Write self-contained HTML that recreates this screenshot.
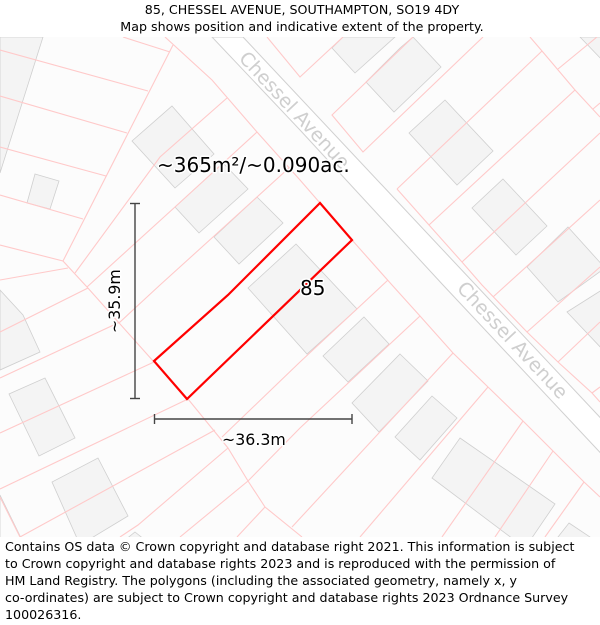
<!DOCTYPE html>
<html><head><meta charset="utf-8"><style>
html,body{margin:0;padding:0;background:#fff;width:600px;height:625px;overflow:hidden}
svg{display:block;font-family:"DejaVu Sans",sans-serif}
.p{fill:none;stroke:#ffc9c9;stroke-width:1.1}
.b{fill:#f4f4f4;stroke:#cfcfcf;stroke-width:.8}
.h{paint-order:stroke;stroke:#fff;stroke-width:3;stroke-linejoin:round}
.f{font-size:12.65px;fill:#000}
</style></head><body>
<svg width="600" height="625" viewBox="0 0 600 625">
<text x="302" y="14" text-anchor="middle" class="f">85, CHESSEL AVENUE, SOUTHAMPTON, SO19 4DY</text>
<text x="302" y="31" text-anchor="middle" class="f">Map shows position and indicative extent of the property.</text>
<clipPath id="c"><rect x="0" y="37" width="600" height="500"/></clipPath>
<g clip-path="url(#c)">
<rect x="0" y="37" width="600" height="500" fill="#fcfcfc"/>
<polygon points="212,37 243,37 610,428 610,463 443,285 300,130" fill="#fff" stroke="#d0d0d0" stroke-width="1"/>
<g>
<polygon class="b" points="0,37 43,37 0,173"/>
<polygon class="b" points="172,106 214,154 175,188 132,141"/>
<polygon class="b" points="223,163 248,189 199,233 175,207"/>
<polygon class="b" points="257,197 283,223 239,264 214,237"/>
<polygon class="b" points="35,174 59,181 50,209 27,203"/>
<polygon class="b" points="0,290 23,315 40,352 0,370"/>
<polygon class="b" points="45,378 75,438 39,456 9,394"/>
<polygon class="b" points="98,458 128,516 80,545 52,482"/>
<polygon class="b" points="296,244 357,309 307,354 248,288"/>
<polygon class="b" points="364,317 389,344 348,382 323,356"/>
<polygon class="b" points="400,354 428,381 379,432 352,403"/>
<polygon class="b" points="432,396 457,418 420,460 395,437"/>
<polygon class="b" points="460,438 555,504 525,548 432,478"/>
<polygon class="b" points="569,523 590,537 575,550 558,537"/>
<polygon class="b" points="135,532 145,540 125,540"/>
<polygon class="b" points="343,37 332,48 355,73 395,37"/>
<polygon class="b" points="413,37 441,67 394,112 366,82 400,48"/>
<polygon class="b" points="445,100 493,151 457,185 409,133"/>
<polygon class="b" points="503,179 547,226 516,255 472,208"/>
<polygon class="b" points="568,227 605,268 558,302 527,267"/>
<polygon class="b" points="605,288 567,312 605,352"/>
<polygon class="b" points="580,37 605,63 605,37"/>
<polygon points="0,495 22,540 0,540" fill="#fcfcfc" stroke="#cfcfcf" stroke-width=".8"/>
</g>
<g>
<polyline class="p" points="0,50 148,91"/>
<polyline class="p" points="123,37 170,52"/>
<polyline class="p" points="0,96 127,133"/>
<polyline class="p" points="0,147 106,176"/>
<polyline class="p" points="0,195 83,219"/>
<polyline class="p" points="0,245 63,261"/>
<polyline class="p" points="173,45 63,261 87,287 154,362 188,399 228,448 248,481 265,507 302,537"/>
<polyline class="p" points="265,507 237,537"/>
<polyline class="p" points="0,280 68,268"/>
<polyline class="p" points="75,273 160,157 227,98"/>
<polyline class="p" points="165,37 212,80 257,132 300,180 320,203 352,240 392,285 420,316 453,353 488,387 523,421 553,451 584,482 600,497"/>
<polyline class="p" points="257,132 175,207 87,287"/>
<polyline class="p" points="0,332 88,288"/>
<polyline class="p" points="290,167 213,237 160,285 120,322 0,378"/>
<polyline class="p" points="154,362 0,433"/>
<polyline class="p" points="188,399 0,489"/>
<polyline class="p" points="215,430 20,537"/>
<polyline class="p" points="0,497 20,537"/>
<polyline class="p" points="388,280 300,362 222,437"/>
<polyline class="p" points="228,448 138,525 120,537"/>
<polyline class="p" points="420,316 300,428 248,481 180,537"/>
<polyline class="p" points="453,353 292,527"/>
<polyline class="p" points="488,387 360,537"/>
<polyline class="p" points="523,421 442,537"/>
<polyline class="p" points="553,451 495,537"/>
<polyline class="p" points="584,482 545,537"/>
<polyline class="p" points="413,37 332,115 363,152 483,37"/>
<polyline class="p" points="397,189 429,225 462,262 482,285 527,332 558,362 592,393 600,402"/>
<polyline class="p" points="397,189 542,51"/>
<polyline class="p" points="429,225 575,90"/>
<polyline class="p" points="462,262 600,133"/>
<polyline class="p" points="493,297 600,200"/>
<polyline class="p" points="527,332 600,267"/>
<polyline class="p" points="558,362 600,322"/>
<polyline class="p" points="592,393 600,387"/>
<polyline class="p" points="267,37 300,77 343,37"/>
<polyline class="p" points="558,69 597,37"/>
<polyline class="p" points="593,109 600,103"/>
<polyline class="p" points="530,37 542,51 575,90 600,117"/>
</g>
<text transform="translate(238,59) rotate(47)" font-size="19.2" fill="#cfcfcf">Chessel Avenue</text>
<text transform="translate(456,289) rotate(47)" font-size="19.2" fill="#cfcfcf">Chessel Avenue</text>
<polygon points="320,203 352,240 187,399 154,361 228,295" fill="none" stroke="#f00" stroke-width="2.2"/>
<g stroke="#444" stroke-width="1.4" fill="none">
<line x1="135" y1="203.500" x2="135" y2="398.500"/><line x1="130" y1="203.500" x2="140" y2="203.500"/><line x1="130" y1="398.500" x2="140" y2="398.500"/>
</g>
<g stroke="#444" stroke-width="1.4" fill="none">
<line x1="154.500" y1="419" x2="352" y2="419"/><line x1="154.500" y1="414" x2="154.500" y2="424"/><line x1="352" y1="414" x2="352" y2="424"/>
</g>
<text x="157" y="172" font-size="20" fill="#000" class="h">~365m²/~0.090ac.</text>
<text x="300" y="295" font-size="20" fill="#000" class="h">85</text>
<text x="222" y="445" font-size="15.800" fill="#000" class="h">~36.3m</text>
<text transform="translate(120,333) rotate(-90)" font-size="15.800" fill="#000" class="h">~35.9m</text>
</g>
<g class="f">
<text x="5" y="551">Contains OS data © Crown copyright and database right 2021. This information is subject</text>
<text x="5" y="568">to Crown copyright and database rights 2023 and is reproduced with the permission of</text>
<text x="5" y="585">HM Land Registry. The polygons (including the associated geometry, namely x, y</text>
<text x="5" y="602">co-ordinates) are subject to Crown copyright and database rights 2023 Ordnance Survey</text>
<text x="5" y="619">100026316.</text>
</g>
</svg>
</body></html>
